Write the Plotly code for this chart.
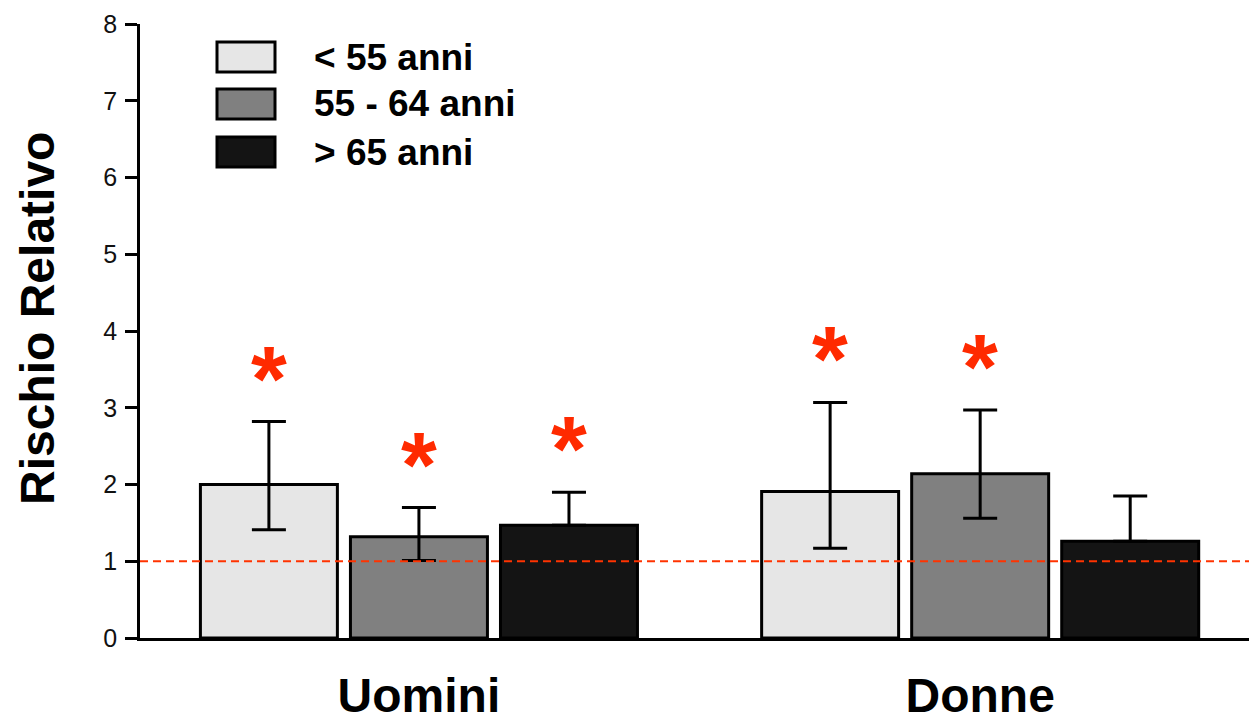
import plotly.graph_objects as go

# Groups and age classes
groups = ["Uomini", "Donne"]
age_labels = ["< 55 anni", "55 - 64 anni", "> 65 anni"]

# Relative risk and confidence limits per age class (Uomini, Donne)
rr_under55 = [2.00, 1.91]
low_under55 = [1.41, 1.17]
high_under55 = [2.82, 3.07]

rr_55_64 = [1.32, 2.14]
low_55_64 = [1.01, 1.56]
high_55_64 = [1.70, 2.97]

rr_over65 = [1.47, 1.26]
low_over65 = [1.47, 1.26]
high_over65 = [1.90, 1.85]

# Statistically significant results (red asterisk)
sig_under55 = [True, True]
sig_55_64 = [True, True]
sig_over65 = [True, False]

y_ticks = [0, 1, 2, 3, 4, 5, 6, 7, 8]
reference_rr = 1

series = [
    (age_labels[0], rr_under55, low_under55, high_under55, sig_under55, "#e6e6e6"),
    (age_labels[1], rr_55_64, low_55_64, high_55_64, sig_55_64, "#808080"),
    (age_labels[2], rr_over65, low_over65, high_over65, sig_over65, "#141414"),
]

W, H = 1249, 725
PL, PR, PT, PB = 140, 1249, 24, 638
XRANGE = [-0.497, 1.479]
BARGAP, GROUPGAP = 0.198, 0.087
FONT = "Liberation Sans, Arial, sans-serif"


def fx(p):
    return (p - PL) / (PR - PL)


def fy(p):
    return (PB - p) / (PB - PT)


# width in pixels of one bar slot inside a group
slot_px = (PR - PL) / (XRANGE[1] - XRANGE[0]) * (1 - BARGAP) / len(series)

fig = go.Figure()
annotations = []

for i, (name, vals, lows, highs, sig, color) in enumerate(series):
    fig.add_trace(go.Bar(
        x=groups, y=vals, name=name,
        marker=dict(color=color, line=dict(color="#000000", width=3)),
        error_y=dict(
            type="data", symmetric=False,
            array=[h - v for h, v in zip(highs, vals)],
            arrayminus=[v - l for v, l in zip(vals, lows)],
            color="#000000", thickness=3, width=17,
        ),
        showlegend=False,
    ))
    for g, hi, s in zip(groups, highs, sig):
        if s:
            annotations.append(dict(
                x=g, y=hi, xref="x", yref="y", text="*", showarrow=False,
                xshift=(i - 1) * slot_px, yshift=43,
                xanchor="center", yanchor="middle",
                font=dict(family=FONT, size=92, color="#ff2a00", weight="bold"),
            ))

# Legend drawn as swatches and labels
shapes = []
swatch_centers = [57, 104, 152]
for (name, _, _, _, _, color), cy in zip(series, swatch_centers):
    shapes.append(dict(
        type="rect", xref="paper", yref="paper",
        x0=fx(217), x1=fx(275), y0=fy(cy + 15), y1=fy(cy - 15),
        fillcolor=color, line=dict(color="#000000", width=3), layer="above",
    ))
    annotations.append(dict(
        x=fx(312), y=fy(cy), xref="paper", yref="paper", text=name,
        showarrow=False, xanchor="left", yanchor="middle",
        font=dict(family=FONT, size=37, color="#000000", weight="bold"),
    ))

# Reference line at RR = 1
shapes.append(dict(
    type="line", xref="paper", yref="y", x0=0, x1=1,
    y0=reference_rr, y1=reference_rr,
    line=dict(color="#ff3300", width=2, dash="8px,5px"), layer="above",
))

# Y axis title
annotations.append(dict(
    x=fx(37), y=fy(319), xref="paper", yref="paper", text="Rischio Relativo",
    textangle=-90, showarrow=False, xanchor="center", yanchor="middle",
    font=dict(family=FONT, size=48, color="#000000", weight="bold"),
))

fig.update_layout(
    width=W, height=H,
    margin=dict(l=PL, r=W - PR, t=PT, b=H - PB, pad=0, autoexpand=False),
    paper_bgcolor="white", plot_bgcolor="white",
    barmode="group", bargap=BARGAP, bargroupgap=GROUPGAP,
    shapes=shapes, annotations=annotations,
    xaxis=dict(
        type="category", range=XRANGE, showline=True, linecolor="#000000",
        linewidth=2.5, ticks="", showgrid=False, zeroline=False,
        automargin=False,
        tickfont=dict(family=FONT, size=48, color="#000000", weight="bold"),
        ticklabelstandoff=14,
    ),
    yaxis=dict(
        range=[0, 8], tickvals=y_ticks, showline=True, linecolor="#000000",
        linewidth=2.5, ticks="outside", ticklen=12, tickwidth=2.5,
        tickcolor="#000000", showgrid=False, zeroline=False,
        automargin=False,
        tickfont=dict(family=FONT, size=25, color="#111111"),
        ticklabelstandoff=3,
    ),
)

fig.write_html("out.html")
